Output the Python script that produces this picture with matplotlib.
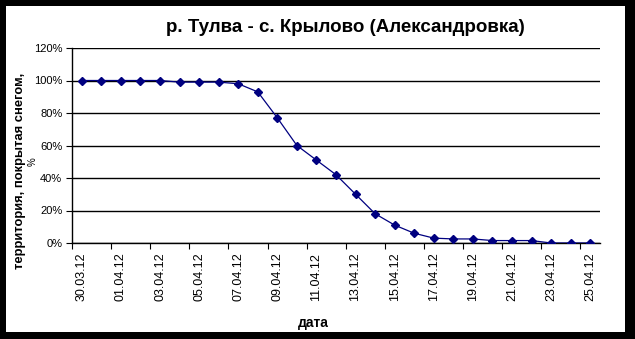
import matplotlib
matplotlib.use("Agg")
import matplotlib.pyplot as plt
from matplotlib.patches import Rectangle
from matplotlib.ticker import FixedLocator, PercentFormatter

plt.rcParams['font.family'] = ['Liberation Sans', 'DejaVu Sans']

dates = ["30.03.12", "31.03.12", "01.04.12", "02.04.12", "03.04.12", "04.04.12",
         "05.04.12", "06.04.12", "07.04.12", "08.04.12", "09.04.12", "10.04.12",
         "11.04.12", "12.04.12", "13.04.12", "14.04.12", "15.04.12", "16.04.12",
         "17.04.12", "18.04.12", "19.04.12", "20.04.12", "21.04.12", "22.04.12",
         "23.04.12", "24.04.12", "25.04.12"]
snow_cover = [100, 100, 100, 100, 100, 99, 99, 99, 98, 93, 77, 60, 51, 42, 30,
              18, 11, 6, 3, 2.5, 2.5, 1.5, 1.5, 1.5, 0, 0, 0]

W, H = 635, 339
fig = plt.figure(figsize=(W / 100, H / 100), dpi=100, facecolor='black')
fig.patches.append(Rectangle((6 / W, (H - 332) / H), (625 - 6) / W, (332 - 6) / H,
                             transform=fig.transFigure, facecolor='white',
                             edgecolor='none', zorder=-10))

ax = fig.add_axes([72 / W, (H - 243) / H, 528 / W, 195 / H])
ax.set_zorder(5)
ax.set_facecolor('white')
x = list(range(len(dates)))
ax.plot(x, snow_cover, color='#000080', lw=0.9, marker='D', markersize=4.5,
        markerfacecolor='#000080', markeredgecolor='#000080', zorder=3)

ax.set_xlim(-0.5, len(dates) - 0.5)
ax.set_ylim(0, 120)
ax.set_yticks(range(0, 121, 20))
ax.yaxis.set_major_formatter(PercentFormatter(decimals=0))
ax.grid(axis='y', color='black', lw=1.0)
ax.set_axisbelow(True)

ax.set_xticks(x[::2])
ax.set_xticklabels(dates[::2], rotation=90, fontsize=9)
ax.xaxis.set_minor_locator(FixedLocator([i + 0.5 for i in range(-1, len(dates) - 1, 2)]))
ax.tick_params(axis='x', which='major', length=0, pad=7)
ax.tick_params(axis='x', which='minor', length=4, width=0.8, direction='out', color='black')
ax.tick_params(axis='y', which='major', length=4, width=0.8, direction='out', labelsize=8, pad=3)

for s in ['top', 'right']:
    ax.spines[s].set_visible(False)
for s in ['left', 'bottom']:
    ax.spines[s].set_color('black')
    ax.spines[s].set_linewidth(1.0)

fig.text(345 / W, 1 - 28 / H, "р. Тулва - с. Крылово (Александровка)",
         ha='center', va='center', fontsize=13.5, fontweight='bold')
fig.text(20 / W, 1 - 171 / H, "территория, покрытая снегом,", rotation=90,
         ha='center', va='center', fontsize=9.4, fontweight='bold')
fig.text(33 / W, 1 - 162 / H, "%", rotation=90, ha='center', va='center', fontsize=7)
fig.text(313 / W, 1 - 323 / H, "дата", ha='center', va='center', fontsize=10,
         fontweight='bold')

fig.savefig("out.png", dpi=100, facecolor='black')
